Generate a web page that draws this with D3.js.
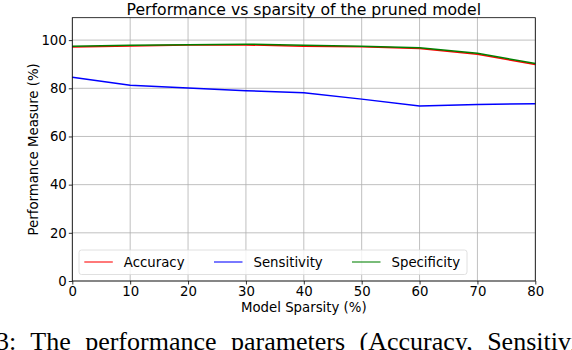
<!DOCTYPE html>
<html>
<head>
<meta charset="utf-8">
<script src="https://cdn.jsdelivr.net/npm/d3@7"></script>
<style>
  body { margin: 0; background: #fff; }
  svg { display: block; }
  text { font-family: "DejaVu Sans", sans-serif; fill: #000; }
</style>
</head>
<body>
<div id="chart"></div>
<script>
// values
var sparsity = [0, 10, 20, 30, 40, 50, 60, 70, 80];
var accuracy = [97.1, 97.6, 98.0, 98.0, 97.5, 97.2, 96.5, 94.1, 89.9];
var sensitivity = [84.6, 81.3, 80.1, 79.0, 78.1, 75.5, 72.6, 73.3, 73.6];
var specificity = [97.5, 97.9, 98.1, 98.3, 97.9, 97.5, 96.8, 94.5, 90.3];
var xTicks = [0, 10, 20, 30, 40, 50, 60, 70, 80];
var yTicks = [0, 20, 40, 60, 80, 100];

var series = [
    { name: "Accuracy", values: accuracy, color: "#ff0000" },
    { name: "Sensitivity", values: sensitivity, color: "#0000ff" },
    { name: "Specificity", values: specificity, color: "#008000" }
];

var width = 572, height = 350;
var plotLeft = 72.3, plotRight = 535.3, plotTop = 17.7, plotBottom = 281;

var svg = d3.select("#chart").append("svg")
    .attr("width", width)
    .attr("height", height);

var x = d3.scaleLinear().domain([0, 80]).range([plotLeft, plotRight]);
var y = d3.scaleLinear().domain([0, 109.3]).range([plotBottom, plotTop]);

// grid
svg.append("g").selectAll("line")
    .data(xTicks).enter().append("line")
    .attr("x1", function (d) { return x(d); })
    .attr("x2", function (d) { return x(d); })
    .attr("y1", plotTop).attr("y2", plotBottom)
    .style("stroke", "#b0b0b0").style("stroke-width", 0.8);
svg.append("g").selectAll("line")
    .data(yTicks).enter().append("line")
    .attr("y1", function (d) { return y(d); })
    .attr("y2", function (d) { return y(d); })
    .attr("x1", plotLeft).attr("x2", plotRight)
    .style("stroke", "#b0b0b0").style("stroke-width", 0.8);

// lines
var line = d3.line()
    .x(function (d, i) { return x(sparsity[i]); })
    .y(function (d) { return y(d); });

svg.append("g").selectAll("path")
    .data(series).enter().append("path")
    .attr("d", function (s) { return line(s.values); })
    .style("fill", "none")
    .style("stroke", function (s) { return s.color; })
    .style("stroke-width", 1.5);

// frame
svg.append("rect")
    .attr("x", plotLeft).attr("y", plotTop)
    .attr("width", plotRight - plotLeft).attr("height", plotBottom - plotTop)
    .style("fill", "none").style("stroke", "#000").style("stroke-width", 0.8);

// axes
var xAxis = svg.append("g")
    .attr("transform", "translate(0," + plotBottom + ")")
    .call(d3.axisBottom(x).tickValues(xTicks).tickSize(3.5).tickPadding(2));
var yAxis = svg.append("g")
    .attr("transform", "translate(" + plotLeft + ",0)")
    .call(d3.axisLeft(y).tickValues(yTicks).tickSize(3.5).tickPadding(2));
[xAxis, yAxis].forEach(function (a) {
    a.select(".domain").remove();
    a.selectAll("line").style("stroke", "#000").style("stroke-width", 0.8);
    a.selectAll("text").style("font-size", "13.3px").style("font-family", "DejaVu Sans");
});

// labels
svg.append("text")
    .attr("x", (plotLeft + plotRight) / 2).attr("y", 15)
    .attr("text-anchor", "middle")
    .style("font-size", "15.7px")
    .text("Performance vs sparsity of the pruned model");
svg.append("text")
    .attr("x", (plotLeft + plotRight) / 2).attr("y", 312)
    .attr("text-anchor", "middle")
    .style("font-size", "13.3px")
    .text("Model Sparsity (%)");
svg.append("text")
    .attr("transform", "translate(38," + (plotTop + plotBottom) / 2 + ") rotate(-90)")
    .attr("text-anchor", "middle")
    .style("font-size", "13.3px")
    .text("Performance Measure (%)");

// legend
var legend = svg.append("g");
legend.append("rect")
    .attr("x", 79).attr("y", 250)
    .attr("width", 388).attr("height", 24.5)
    .attr("rx", 2.5)
    .style("fill", "#fff").style("fill-opacity", 0.8)
    .style("stroke", "#d8d8d8").style("stroke-width", 0.8);
var legendX = [84.3, 214, 352];
var item = legend.selectAll(".item")
    .data(series).enter().append("g")
    .attr("class", "item")
    .attr("transform", function (d, i) { return "translate(" + legendX[i] + ",262)"; });
item.append("line")
    .attr("x1", 0).attr("x2", 28.5)
    .style("stroke", function (d) { return d.color; })
    .style("stroke-opacity", 0.7)
    .style("stroke-width", 1.5);
item.append("text")
    .attr("x", 39.5).attr("y", 4.8)
    .style("font-size", "13.3px")
    .text(function (d) { return d.name; });

// caption cut off at the bottom of the page
svg.append("text")
    .attr("x", -4).attr("y", 350)
    .style("font-family", "Liberation Serif, serif")
    .style("font-size", "26px")
    .style("word-spacing", "8px")
    .text("3: The performance parameters (Accuracy, Sensitivity, and Specificity)");
</script>
</body>
</html>
